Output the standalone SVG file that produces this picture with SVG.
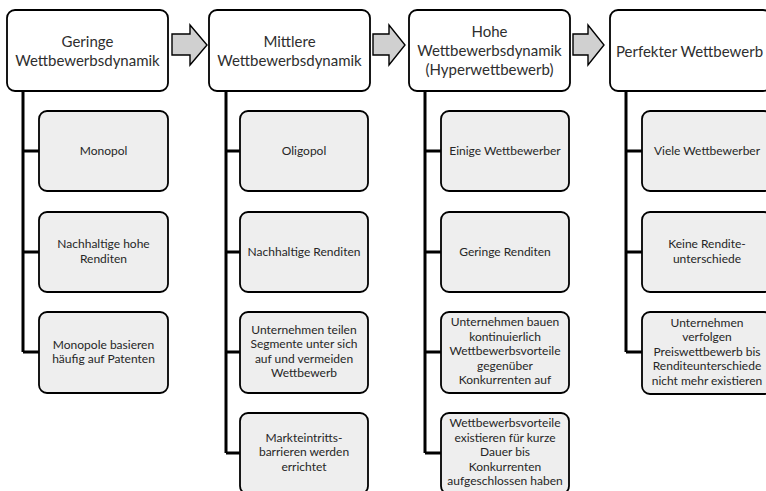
<svg xmlns="http://www.w3.org/2000/svg" width="766" height="491" viewBox="0 0 766 491">
  <style>
    .head { fill: #ffffff; stroke: #000000; stroke-width: 1.8; }
    .item { fill: #eeeeee; stroke: #000000; stroke-width: 1.8; }
    .step { fill: #d0d0d0; stroke: #000000; stroke-width: 1.4; stroke-linejoin: miter; }
    .wire { fill: none; stroke: #000000; stroke-width: 3; }
    .ht { font-family: Lato, "Open Sans", sans-serif; font-size: 15px; fill: #2e2e2e; text-anchor: middle; }
    .it { font-family: Lato, "Open Sans", sans-serif; font-size: 12px; fill: #262626; text-anchor: middle; }
  </style>
  <rect x="0" y="0" width="766" height="491" fill="#ffffff"/>

  <!-- connectors: vertical spines with branches to each item -->
  <g id="connectors">
    <path class="wire" d="M23 91 V352 M23 151 H39 M23 252 H39 M23 352 H39"/>
    <path class="wire" d="M226 91 V453 M226 151 H240 M226 252 H240 M226 352 H240 M226 453 H240"/>
    <path class="wire" d="M425 91 V453 M425 151 H441 M425 252 H441 M425 352 H441 M425 453 H441"/>
    <path class="wire" d="M626 91 V352 M626 151 H642 M626 252 H642 M626 352 H642"/>
  </g>

  <!-- step arrows between the stages -->
  <g id="arrows">
    <polygon class="step" points="172,34 190,34 190,25 207,45 190,65 190,55 172,55"/>
    <polygon class="step" points="373,34 389,34 389,25 405,45 389,65 389,55 373,55"/>
    <polygon class="step" points="573,34 588,34 588,25 604,45 588,65 588,55 573,55"/>
  </g>

  <!-- stage 1 -->
  <g id="stage1">
    <rect class="head" x="7" y="10" width="161" height="81" rx="8"/>
    <text class="ht" x="87.5" y="46.5">Geringe</text>
    <text class="ht" x="87.5" y="65.5">Wettbewerbsdynamik</text>
  </g>
  <g id="s1-monopol">
    <rect class="item" x="39" y="111" width="129" height="80" rx="8"/>
    <text class="it" x="103.5" y="155">Monopol</text>
  </g>
  <g id="s1-renditen">
    <rect class="item" x="39" y="212" width="129" height="80" rx="8"/>
    <text class="it" x="103.5" y="248">Nachhaltige hohe</text>
    <text class="it" x="103.5" y="262.5">Renditen</text>
  </g>
  <g id="s1-patente">
    <rect class="item" x="39" y="312" width="129" height="81" rx="8"/>
    <text class="it" x="103.5" y="348.5">Monopole basieren</text>
    <text class="it" x="103.5" y="363">häufig auf Patenten</text>
  </g>

  <!-- stage 2 -->
  <g id="stage2">
    <rect class="head" x="209" y="10" width="161" height="81" rx="8"/>
    <text class="ht" x="289.5" y="46.5">Mittlere</text>
    <text class="ht" x="289.5" y="65.5">Wettbewerbsdynamik</text>
  </g>
  <g id="s2-oligopol">
    <rect class="item" x="240" y="111" width="128" height="80" rx="8"/>
    <text class="it" x="304" y="155">Oligopol</text>
  </g>
  <g id="s2-renditen">
    <rect class="item" x="240" y="212" width="128" height="80" rx="8"/>
    <text class="it" x="304" y="255.5">Nachhaltige Renditen</text>
  </g>
  <g id="s2-segmente">
    <rect class="item" x="240" y="312" width="128" height="81" rx="8"/>
    <text class="it" x="304" y="333.5">Unternehmen teilen</text>
    <text class="it" x="304" y="348">Segmente unter sich</text>
    <text class="it" x="304" y="362.5">auf und vermeiden</text>
    <text class="it" x="304" y="377">Wettbewerb</text>
  </g>
  <g id="s2-barrieren">
    <rect class="item" x="240" y="413" width="128" height="81" rx="8"/>
    <text class="it" x="304" y="441.5">Markteintritts-</text>
    <text class="it" x="304" y="456">barrieren werden</text>
    <text class="it" x="304" y="470.5">errichtet</text>
  </g>

  <!-- stage 3 -->
  <g id="stage3">
    <rect class="head" x="409" y="10" width="161" height="81" rx="8"/>
    <text class="ht" x="489.5" y="37">Hohe</text>
    <text class="ht" x="489.5" y="56">Wettbewerbsdynamik</text>
    <text class="ht" x="489.5" y="75">(Hyperwettbewerb)</text>
  </g>
  <g id="s3-wettbewerber">
    <rect class="item" x="441" y="111" width="128" height="80" rx="8"/>
    <text class="it" x="505" y="155">Einige Wettbewerber</text>
  </g>
  <g id="s3-renditen">
    <rect class="item" x="441" y="212" width="128" height="80" rx="8"/>
    <text class="it" x="505" y="255.5">Geringe Renditen</text>
  </g>
  <g id="s3-vorteile">
    <rect class="item" x="441" y="312" width="128" height="81" rx="8"/>
    <text class="it" x="505" y="326">Unternehmen bauen</text>
    <text class="it" x="505" y="340.5">kontinuierlich</text>
    <text class="it" x="505" y="355">Wettbewerbsvorteile</text>
    <text class="it" x="505" y="369.5">gegenüber</text>
    <text class="it" x="505" y="384">Konkurrenten auf</text>
  </g>
  <g id="s3-dauer">
    <rect class="item" x="441" y="413" width="128" height="81" rx="8"/>
    <text class="it" x="505" y="427">Wettbewerbsvorteile</text>
    <text class="it" x="505" y="441.5">existieren für kurze</text>
    <text class="it" x="505" y="456">Dauer bis</text>
    <text class="it" x="505" y="470.5">Konkurrenten</text>
    <text class="it" x="505" y="485">aufgeschlossen haben</text>
  </g>

  <!-- stage 4 -->
  <g id="stage4">
    <rect class="head" x="610" y="10" width="161" height="81" rx="8"/>
    <text class="ht" x="689.5" y="56.5">Perfekter Wettbewerb</text>
  </g>
  <g id="s4-wettbewerber">
    <rect class="item" x="642" y="111" width="130" height="80" rx="8"/>
    <text class="it" x="707" y="155">Viele Wettbewerber</text>
  </g>
  <g id="s4-renditen">
    <rect class="item" x="642" y="212" width="130" height="80" rx="8"/>
    <text class="it" x="707" y="248">Keine Rendite-</text>
    <text class="it" x="707" y="262.5">unterschiede</text>
  </g>
  <g id="s4-preis">
    <rect class="item" x="642" y="312" width="130" height="82" rx="8"/>
    <text class="it" x="707" y="326.5">Unternehmen</text>
    <text class="it" x="707" y="341">verfolgen</text>
    <text class="it" x="707" y="355.5">Preiswettbewerb bis</text>
    <text class="it" x="707" y="370">Renditeunterschiede</text>
    <text class="it" x="707" y="384.5">nicht mehr existieren</text>
  </g>
</svg>
